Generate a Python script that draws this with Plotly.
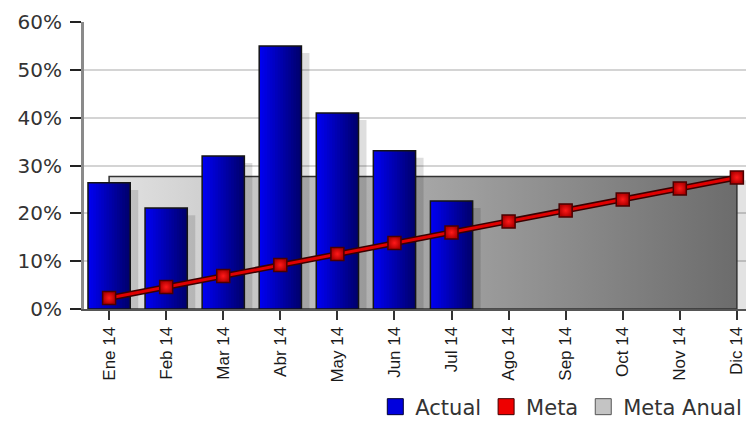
import plotly.graph_objects as go

meses = ["Ene 14", "Feb 14", "Mar 14", "Abr 14", "May 14", "Jun 14",
         "Jul 14", "Ago 14", "Sep 14", "Oct 14", "Nov 14", "Dic 14"]
actual = [26.4, 21.1, 32.0, 55.0, 41.0, 33.1, 22.6]
meta = [2.3, 4.6, 6.9, 9.2, 11.5, 13.8, 16.0, 18.3, 20.6, 22.9, 25.2, 27.5]
meta_anual = 27.7
y_ticks = [0, 10, 20, 30, 40, 50, 60]
y_labels = ["0%", "10%", "20%", "30%", "40%", "50%", "60%"]

X_RANGE = [-0.44, 11.3]
Y_RANGE = [0, 60]

fig = go.Figure()

# shadow of the Meta Anual area (right side), beneath the area
fig.add_trace(go.Bar(
    x=[meses[-1]], y=[meta_anual - 0.8], width=0.2, offset=0,
    marker=dict(color="rgba(0,0,0,0.11)", line=dict(width=0)),
    showlegend=False, hoverinfo="skip", xaxis="x", yaxis="y"))

# Meta Anual area (gradient) on base axes -> drawn beneath bars
fig.add_trace(go.Scatter(
    x=[meses[0], meses[0], meses[-1], meses[-1], meses[0]],
    y=[0, meta_anual, meta_anual, 0, 0],
    mode="lines", fill="toself",
    line=dict(color="#333333", width=1.5),
    fillgradient=dict(type="horizontal",
                      colorscale=[[0, "#e2e2e2"], [0.5, "#a6a6a6"], [1, "#6c6c6c"]]),
    showlegend=False, hoverinfo="skip", xaxis="x", yaxis="y"))

bar_w = 0.74
act_x = meses[:len(actual)]

# bar shadows
fig.add_trace(go.Bar(
    x=act_x, y=[v - 1.5 for v in actual], width=bar_w, offset=-bar_w / 2 + 0.14,
    marker=dict(color="rgba(0,0,0,0.13)", line=dict(width=0)),
    showlegend=False, hoverinfo="skip", xaxis="x2", yaxis="y2"))

# gradient bars: overlapping slices, each extends to the right edge
N = 16
c0 = (0, 0, 240)
c1 = (0, 0, 110)
for i in range(N):
    t = i / (N - 1)
    col = "rgb(%d,%d,%d)" % tuple(round(a + (b - a) * t) for a, b in zip(c0, c1))
    off = i * bar_w / N
    fig.add_trace(go.Bar(
        x=act_x, y=actual, width=bar_w - off,
        offset=-bar_w / 2 + off,
        marker=dict(color=col, line=dict(width=0)),
        showlegend=False, hoverinfo="skip", xaxis="x2", yaxis="y2"))

# bar outline
fig.add_trace(go.Bar(
    x=act_x, y=actual, width=bar_w, offset=-bar_w / 2,
    marker=dict(color="rgba(0,0,0,0)", line=dict(color="#151515", width=1.5)),
    showlegend=False, name="Actual", xaxis="x2", yaxis="y2"))

# Meta line with dark outline
fig.add_trace(go.Scatter(
    x=meses, y=meta, mode="lines",
    line=dict(color="#3a0000", width=6),
    showlegend=False, hoverinfo="skip", xaxis="x2", yaxis="y2"))
fig.add_trace(go.Scatter(
    x=meses, y=meta, mode="lines+markers",
    line=dict(color="#e00000", width=3),
    marker=dict(symbol="square", size=13, color="#b00000",
                gradient=dict(type="radial", color="#ff1a1a"),
                line=dict(color="#4a0000", width=1.5)),
    showlegend=False, name="Meta", xaxis="x2", yaxis="y2"))

# legend entries
fig.add_trace(go.Scatter(
    x=[None], y=[None], mode="markers", name="Actual",
    marker=dict(symbol="square", size=16, color="#0000dd", line=dict(color="#000033", width=1))))
fig.add_trace(go.Scatter(
    x=[None], y=[None], mode="markers", name="Meta",
    marker=dict(symbol="square", size=16, color="#ee0000", line=dict(color="#400000", width=1))))
fig.add_trace(go.Scatter(
    x=[None], y=[None], mode="markers", name="Meta Anual",
    marker=dict(symbol="square", size=16, color="#c4c4c4", line=dict(color="#555555", width=1))))

# The page body adds an 8px offset, so the figure is 8px smaller and margins shifted.
fig.update_layout(
    width=746, height=413,
    margin=dict(l=76, r=0, t=14, b=112, autoexpand=False),
    paper_bgcolor="white", plot_bgcolor="white",
    barmode="overlay",
    showlegend=True,
    legend=dict(orientation="h", x=0.99, xanchor="right", y=-0.3415, yanchor="middle",
                font=dict(family="DejaVu Sans", size=21, color="#333333"),
                itemclick=False, tracegroupgap=0, itemwidth=30,
                bgcolor="rgba(0,0,0,0)"),
    xaxis=dict(type="category", categoryorder="array", categoryarray=meses,
               range=X_RANGE, showgrid=False, automargin=False,
               showline=True, linecolor="#555555", linewidth=2,
               ticks="outside", ticklen=9, tickcolor="#333333", tickwidth=1.5,
               tickangle=-90,
               tickfont=dict(family="Liberation Sans, Arial, sans-serif", size=17, color="#1a1a1a")),
    yaxis=dict(range=Y_RANGE, tickvals=y_ticks, ticktext=y_labels, automargin=False,
               showgrid=True, gridcolor="#d4d4d4", gridwidth=2,
               showline=True, linecolor="#8a8a8a", linewidth=3,
               ticks="outside", ticklen=11, tickcolor="#222222", tickwidth=1.5,
               ticklabelstandoff=4,
               zeroline=False,
               tickfont=dict(family="DejaVu Sans", size=20, color="#333333")),
    xaxis2=dict(type="category", categoryorder="array", categoryarray=meses,
                range=X_RANGE, overlaying="x", visible=False, automargin=False),
    yaxis2=dict(range=Y_RANGE, overlaying="y", visible=False, automargin=False),
)

fig.write_html("out.html")
